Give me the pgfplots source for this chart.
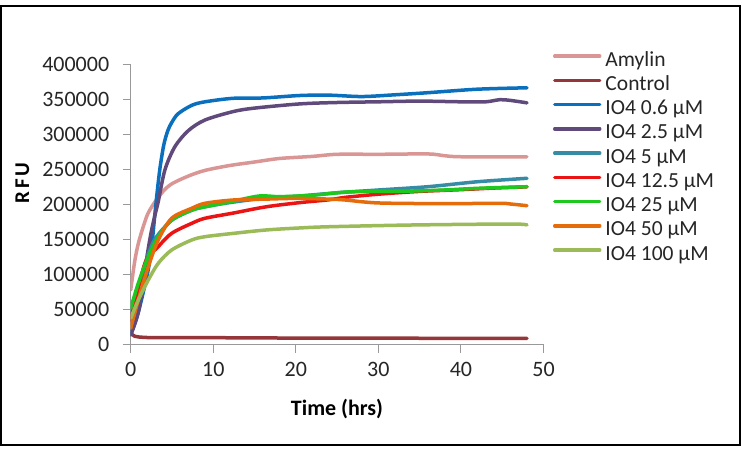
\documentclass[border=0pt]{standalone}
\usepackage{fontspec}
\setmainfont{Carlito}
\usepackage{pgfplots}
\pgfplotsset{compat=1.18}

\definecolor{cAmy}{RGB}{217,150,148}
\definecolor{cCtl}{RGB}{149,55,58}
\definecolor{cA}{RGB}{10,112,190}
\definecolor{cB}{RGB}{96,74,123}
\definecolor{cC}{RGB}{55,140,165}
\definecolor{cD}{RGB}{235,20,20}
\definecolor{cE}{RGB}{30,200,30}
\definecolor{cF}{RGB}{228,108,10}
\definecolor{cG}{RGB}{155,187,89}

\begin{document}
\begin{tikzpicture}[x=1pt,y=1pt]
\fill[white] (0,0) rectangle (742,448);
\begin{axis}[
  at={(130.7pt,103.3pt)}, anchor=south west,
  scale only axis, width=412.8pt, height=280pt,
  xmin=0, xmax=50, ymin=0, ymax=400000,
  axis x line*=bottom, axis y line*=left,
  axis line style={draw=black!40, line width=1pt, -},
  xtick={0,10,...,50}, ytick={0,50000,...,400000},
  tick align=outside, major tick length=8pt,
  every tick/.style={draw=black!40, line width=1pt},
  scaled y ticks=false,
  yticklabel style={/pgf/number format/fixed, /pgf/number format/1000 sep={}, xshift=-10pt},
  xticklabel style={yshift=-6pt},
  /pgf/number format/assume math mode=true,
  ticklabel style={font=\fontsize{22}{26}\selectfont, text=black!85},
  legend cell align=left,
  legend image code/.code={\draw[#1, line width=3.5pt] (0pt,5pt) -- (45pt,5pt);},
  legend style={at={(1.023,1.045)}, anchor=north west, draw=none, fill=none,
    inner sep=0pt, outer sep=0pt, font=\fontsize{21.5}{25}\selectfont, text=black!85,
    row sep=6.25pt, nodes={inner sep=0pt, text height=14pt, text depth=4pt},
    /tikz/every odd column/.style={column sep=4pt}},
  every axis plot/.append style={line width=3.5pt, no markers, smooth, line cap=round},
]
% Amylin
\addplot[cAmy] coordinates {(0,78000) (0.5,120000) (1,148000) (2,185000) (3,205000) (4,220000) (5,230000) (7,241000) (9,249000) (12,256000) (15,261000) (18,266000) (22,269000) (25,272000) (30,272000) (36,272500) (38,270000) (40,268500) (48,268500)};
\addlegendentry{Amylin}
% Control
\addplot[cCtl] coordinates {(0,16000) (0.5,12000) (1,11000) (3,10000) (10,10000) (20,9500) (48,9000)};
\addlegendentry{Control}
% IO4 0.6 uM
\addplot[cA] coordinates {(0,14000) (1,50000) (2,100000) (2.5,135000) (3,195000) (3.5,248000) (4,285000) (4.5,306000) (5,318000) (5.75,330000) (7.4,342000) (9,347000) (12.4,352000) (16,352500) (20.5,356000) (24,356500) (28,354500) (32,357000) (36,360000) (42,365000) (48,367000)};
\addlegendentry{IO4 0.6 µM}
% IO4 2.5 uM
\addplot[cB] coordinates {(0,14000) (1,50000) (2,128000) (2.5,162000) (3,188000) (3.35,205000) (4.15,250000) (5.36,283000) (7,306000) (9,321000) (12.4,333000) (15,338000) (20.5,344000) (25,346000) (30,347000) (35,348000) (40,347000) (43,347000) (44.7,350000) (46,349000) (48,345500)};
\addlegendentry{IO4 2.5 µM}
% IO4 5 uM
\addplot[cC] coordinates {(0,45000) (1,85000) (2,125000) (3,152000) (5,178000) (7.4,192000) (9,197000) (12,203000) (16,209000) (20,212000) (25,217000) (30,221000) (36,225700) (42,232800) (48,237700)};
\addlegendentry{IO4 5 µM}
% IO4 12.5 uM
\addplot[cD] coordinates {(0,35300) (1.73,116300) (3.34,140000) (4.96,159100) (7.4,173400) (9,180600) (12.4,188000) (16.4,197000) (20.5,203000) (24,207000) (26,210500) (30,215000) (35,219000) (40,221500) (44,223800) (48,225500)};
\addlegendentry{IO4 12.5 µM}
% IO4 25 uM
\addplot[cE] coordinates {(0,52000) (0.92,87700) (2.13,125700) (3.34,154300) (4.96,178000) (7.4,192400) (9,197000) (12.4,205000) (15.6,212500) (18,211500) (22,213500) (26,218000) (30,219000) (34,219500) (38,221000) (42,223400) (48,225700)};
\addlegendentry{IO4 25 µM}
% IO4 50 uM
\addplot[cF] coordinates {(0,23400) (0.92,63900) (2.13,111400) (3.34,149600) (4.96,180600) (7.4,194900) (9,202000) (12.4,206700) (16.4,208000) (20,209000) (24,208000) (26,206700) (30,202500) (38,201500) (44.7,202000) (46,201000) (48,198600)};
\addlegendentry{IO4 50 µM}
% IO4 100 uM
\addplot[cG] coordinates {(0,37700) (0.92,63900) (2.13,92400) (3.34,116300) (4.96,135300) (7.4,149600) (9,154300) (12.4,159000) (16.4,163900) (20.5,166800) (24,168500) (34,171000) (46,172400) (48,171000)};
\addlegendentry{IO4 100 µM}
\end{axis}
\node[font=\bfseries\fontsize{22}{26}\selectfont] at (337,39) {Time (hrs)};
\node[rotate=90, font=\bfseries\fontsize{21}{25}\selectfont] at (22.5,265) {R\hspace{3pt}F\hspace{3pt}U};
\draw[line width=2pt] (1,3) rectangle (739.7,442.3);
\end{tikzpicture}
\end{document}
